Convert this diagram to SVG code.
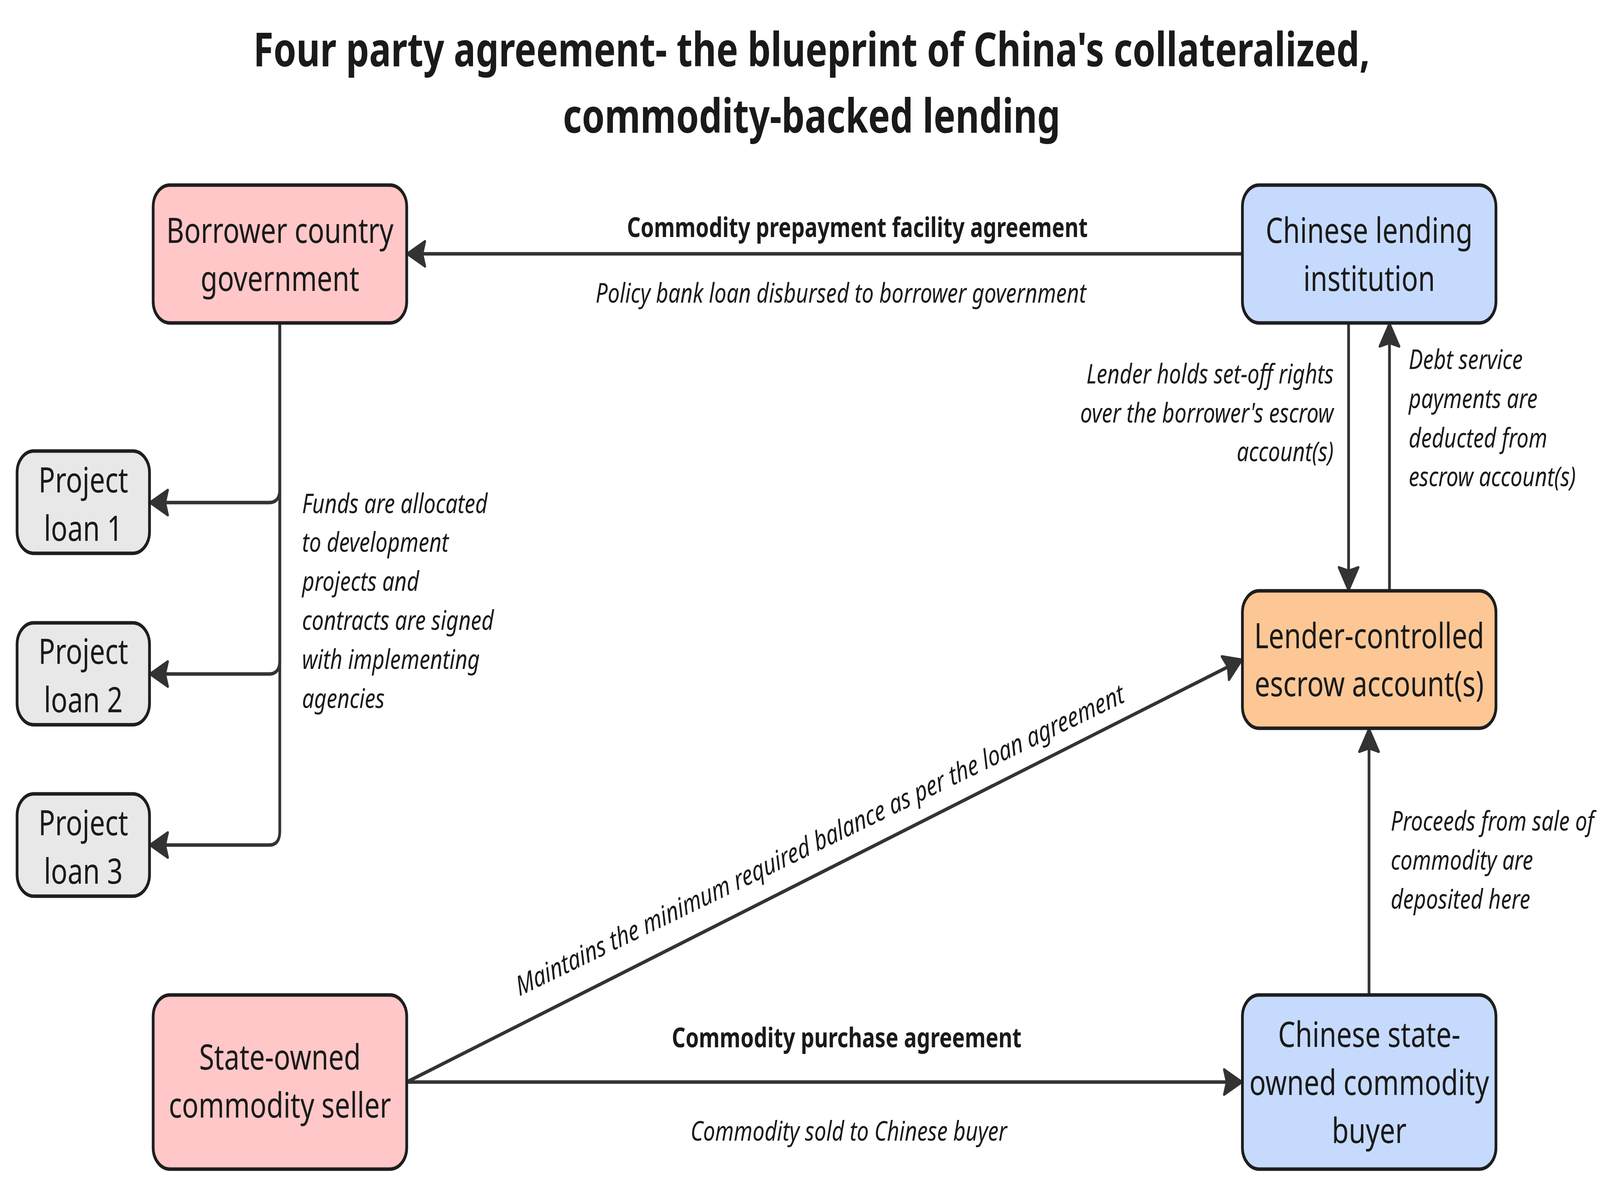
<svg xmlns="http://www.w3.org/2000/svg" width="5244" height="3050" viewBox="0 0 5244 3050" preserveAspectRatio="none" style="width:100%;height:100%">
<style>
.bg{fill:#ffffff}
.box{stroke:#1e1e1e;stroke-width:9}
.pink{fill:#FFC7C7}
.blue{fill:#C6DAFD}
.orange{fill:#FDC795}
.grey{fill:#E8E8E8}
.nt{font-family:"Noto Sans","Open Sans","Liberation Sans",sans-serif;font-size:90px;fill:#1a1a1a;text-anchor:middle}
.title{font-family:"Noto Sans","Open Sans","Liberation Sans",sans-serif;font-size:120px;font-weight:bold;fill:#1a1a1a;text-anchor:middle}
.el{font-family:"Noto Sans","Open Sans","Liberation Sans",sans-serif;font-size:70px;font-style:italic;fill:#1a1a1a}
.eb{font-family:"Noto Sans","Open Sans","Liberation Sans",sans-serif;font-size:70px;font-weight:bold;fill:#1a1a1a;text-anchor:middle}
.edge{fill:none;stroke:#333333;stroke-width:9;marker-end:url(#arrow)}
</style>
<defs>
<marker id="arrow" markerUnits="userSpaceOnUse" orient="auto" refX="0" refY="0" markerWidth="100" markerHeight="100" viewBox="-80 -50 100 100" overflow="visible">
<path d="M-2,0 L-60,-32 L-51,0 L-60,32 Z" fill="#333333" stroke="#333333" stroke-width="7" stroke-linejoin="round"/>
</marker>
</defs>
<rect class="bg" x="0" y="0" width="5244" height="3050"/>
<g id="title">
<text class="title" x="2660" y="170">Four party agreement- the blueprint of China's collateralized,</text>
<text class="title" x="2660" y="340">commodity-backed lending</text>
</g>
<g id="connectors">
<path class="edge" d="M4072,650 H1333"/>
<path class="edge" d="M917,829 V1252 Q917,1287 882,1287 H490"/>
<path class="edge" d="M917,829 V1691 Q917,1726 882,1726 H490"/>
<path class="edge" d="M917,829 V2129 Q917,2164 882,2164 H490"/>
<path class="edge" d="M4420,827 V1513"/>
<path class="edge" d="M4554,1513 V827"/>
<path class="edge" d="M4487,2548 V1865"/>
<path class="edge" d="M1333,2771 H4072"/>
<path class="edge" d="M1333,2771 L4072,1689"/>
<text class="eb" x="2810" y="607">Commodity prepayment facility agreement</text>
<text class="el" x="2756" y="775" text-anchor="middle">Policy bank loan disbursed to borrower government</text>
<text class="el"><tspan x="990" y="1314">Funds are allocated</tspan><tspan x="990" y="1413">to development</tspan><tspan x="990" y="1513">projects and</tspan><tspan x="990" y="1613">contracts are signed</tspan><tspan x="990" y="1713">with implementing</tspan><tspan x="990" y="1813">agencies</tspan></text>
<text class="el" text-anchor="end"><tspan x="4371" y="982">Lender holds set-off rights</tspan><tspan x="4371" y="1082">over the borrower's escrow</tspan><tspan x="4371" y="1181">account(s)</tspan></text>
<text class="el"><tspan x="4617" y="945">Debt service</tspan><tspan x="4617" y="1045">payments are</tspan><tspan x="4617" y="1146">deducted from</tspan><tspan x="4617" y="1245">escrow account(s)</tspan></text>
<text class="el"><tspan x="4558" y="2127">Proceeds from sale of</tspan><tspan x="4558" y="2227">commodity are</tspan><tspan x="4558" y="2327">deposited here</tspan></text>
<text class="eb" x="2775" y="2682">Commodity purchase agreement</text>
<text class="el" x="2782" y="2921" text-anchor="middle">Commodity sold to Chinese buyer</text>
<text class="el" text-anchor="middle" transform="translate(2696,2174) rotate(-20.8)">Maintains the minimum required balance as per the loan agreement</text>
</g>
<g id="borrower">
<rect class="box pink" x="502" y="474" width="831" height="353" rx="55"/>
<text class="nt" x="917.5" y="622">Borrower country</text>
<text class="nt" x="917.5" y="745">government</text>
</g>
<g id="lender">
<rect class="box blue" x="4072" y="474" width="831" height="353" rx="55"/>
<text class="nt" x="4487.5" y="622">Chinese lending</text>
<text class="nt" x="4487.5" y="745">institution</text>
</g>
<g id="escrow">
<rect class="box orange" x="4072" y="1513" width="831" height="352" rx="55"/>
<text class="nt" x="4487.5" y="1660">Lender-controlled</text>
<text class="nt" x="4487.5" y="1783">escrow account(s)</text>
</g>
<g id="buyer">
<rect class="box blue" x="4072" y="2548" width="831" height="446" rx="55"/>
<text class="nt" x="4487.5" y="2681">Chinese state-</text>
<text class="nt" x="4487.5" y="2804">owned commodity</text>
<text class="nt" x="4487.5" y="2927">buyer</text>
</g>
<g id="seller">
<rect class="box pink" x="502" y="2548" width="831" height="446" rx="55"/>
<text class="nt" x="917.5" y="2739">State-owned</text>
<text class="nt" x="917.5" y="2862">commodity seller</text>
</g>
<g id="loan1">
<rect class="box grey" x="56" y="1155" width="434" height="262" rx="55"/>
<text class="nt" x="273" y="1261">Project</text>
<text class="nt" x="273" y="1385">loan 1</text>
</g>
<g id="loan2">
<rect class="box grey" x="56" y="1595" width="434" height="261" rx="55"/>
<text class="nt" x="273" y="1700">Project</text>
<text class="nt" x="273" y="1824">loan 2</text>
</g>
<g id="loan3">
<rect class="box grey" x="56" y="2033" width="434" height="262" rx="55"/>
<text class="nt" x="273" y="2139">Project</text>
<text class="nt" x="273" y="2263">loan 3</text>
</g>
</svg>
